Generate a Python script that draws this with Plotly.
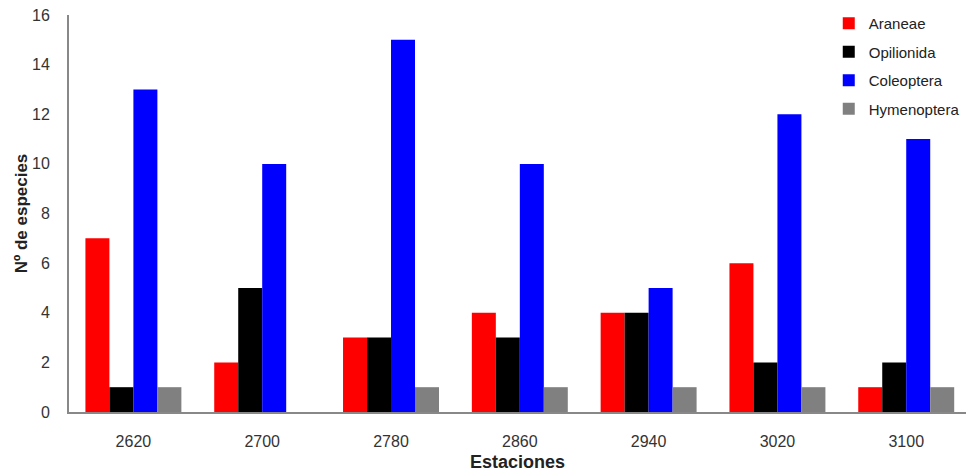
import plotly.graph_objects as go

estaciones = ["2620", "2700", "2780", "2860", "2940", "3020", "3100"]
araneae = [7, 2, 3, 4, 4, 6, 1]
opilionida = [1, 5, 3, 3, 4, 2, 2]
coleoptera = [13, 10, 15, 10, 5, 12, 11]
hymenoptera = [1, 0, 1, 1, 1, 1, 1]

series = [
    ("Araneae", araneae, "#ff0000"),
    ("Opilionida", opilionida, "#000000"),
    ("Coleoptera", coleoptera, "#0000ff"),
    ("Hymenoptera", hymenoptera, "#808080"),
]

fig = go.Figure()
for name, vals, color in series:
    fig.add_trace(go.Bar(
        x=estaciones, y=vals, name=name, legendgroup=name,
        marker=dict(color=color, line=dict(width=0)),
    ))

font_family = "Liberation Sans, Arial, sans-serif"
fig.update_layout(
    width=966, height=474,
    margin=dict(l=69, r=0, t=15, b=62, autoexpand=False),
    paper_bgcolor="white", plot_bgcolor="white",
    barmode="group", bargap=0.255, bargroupgap=0,
    font=dict(family=font_family, color="#333333", size=16),
    legend=dict(
        x=0.847, y=1.02, xanchor="left", yanchor="top",
        font=dict(size=15, color="#222222"),
        traceorder="grouped", tracegroupgap=6,
        itemwidth=30, bgcolor="rgba(0,0,0,0)",
    ),
    showlegend=True,
)
fig.update_xaxes(
    type="category", range=[-0.5, 6.464],
    showline=True, linecolor="#888888", linewidth=2,
    showgrid=False, ticks="", ticklabelstandoff=14,
    tickfont=dict(size=16, color="#333333"),
    title=dict(text="<b>Estaciones</b>", font=dict(size=18, color="#222222"), standoff=6),
)
fig.update_yaxes(
    range=[0, 16], tickvals=list(range(0, 17, 2)),
    showline=True, linecolor="#888888", linewidth=2,
    showgrid=False, zeroline=False, ticks="", ticklabelstandoff=14,
    tickfont=dict(size=16, color="#333333"),
    title=dict(text="<b>Nº de especies</b>", font=dict(size=17, color="#222222"), standoff=0),
)

fig.write_html("out.html")
